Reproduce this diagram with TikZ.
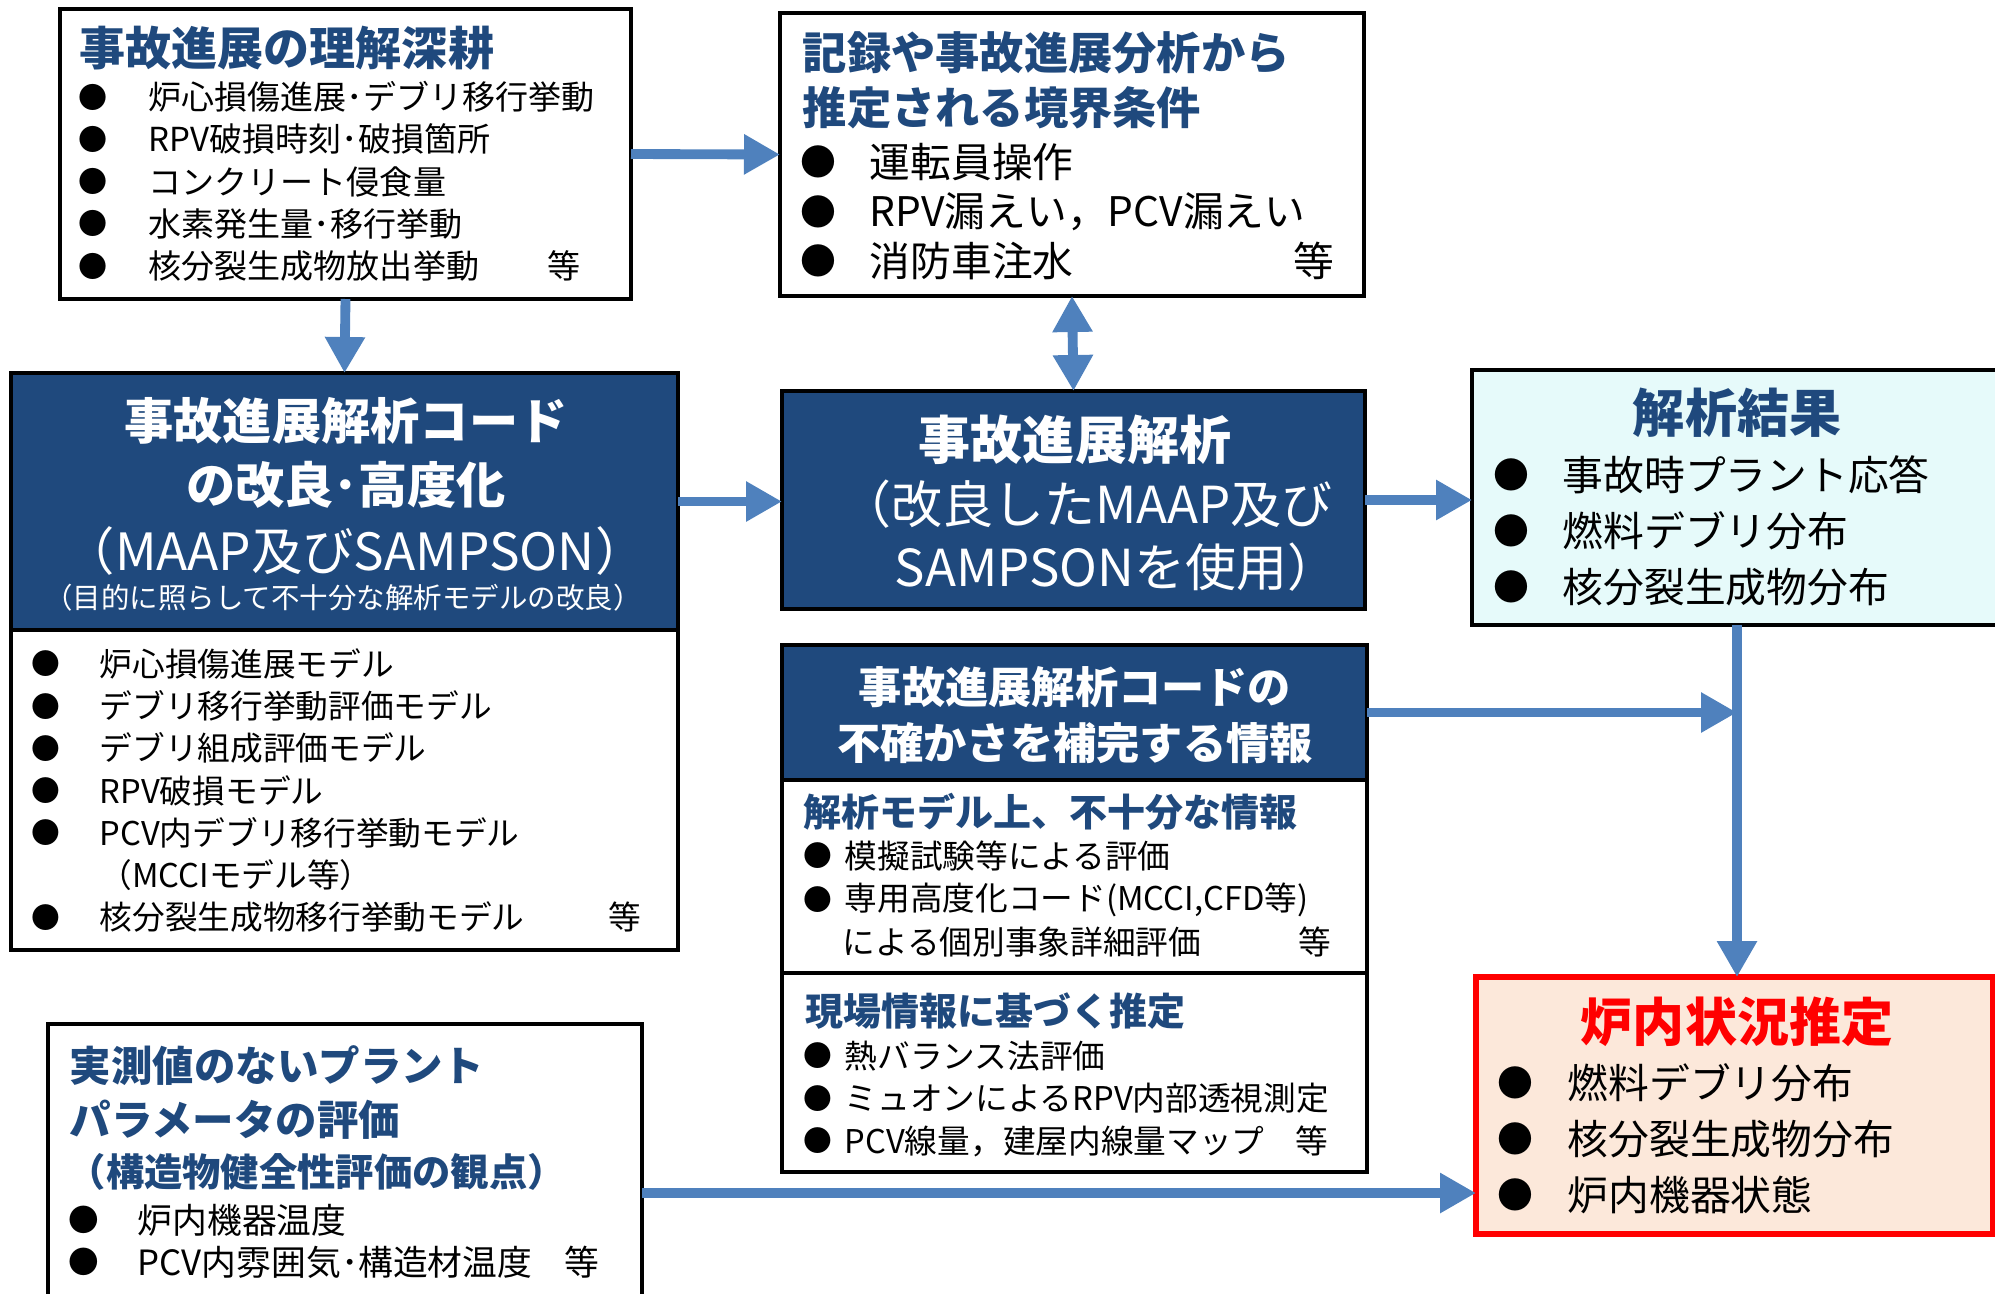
\documentclass[tikz,border=0pt]{standalone}
\usepackage{fontspec}
\setmainfont{Noto Sans CJK JP}
\usepackage{tikz}
\usetikzlibrary{arrows.meta,positioning,calc}

\definecolor{navy}{HTML}{1F497D}
\definecolor{flowblue}{HTML}{4F81BD}
\definecolor{resultbg}{HTML}{E6FAFA}
\definecolor{statebg}{HTML}{FCE8DA}
\newcommand{\fsz}[2]{\fontsize{#1}{#2}\selectfont}

\tikzset{
  box/.style={rectangle, draw=black, line width=0.9pt, fill=white, inner sep=0pt, outer sep=0pt, anchor=north west},
  headbox/.style={box, fill=navy},
  flow/.style={draw=flowblue, line width=2.8pt, -{Triangle[length=3.6mm,width=3.8mm]}},
  ttl/.style={inner sep=0pt, text=navy},
  itm/.style={inner sep=0pt, anchor=west},
  bul/.style={inner sep=0pt, scale=0.88},
}

\begin{document}
\begin{tikzpicture}
\useasboundingbox (0,0) rectangle (19.95,-12.93);

% frames
\node[box, minimum width=5.71cm, minimum height=2.90cm] (A) at (0.60,-0.09) {};
\node[box, minimum width=5.84cm, minimum height=2.83cm] (B) at (7.80,-0.13) {};
\node[headbox, minimum width=6.67cm, minimum height=2.57cm] (Ch) at (0.11,-3.73) {};
\node[box, minimum width=6.67cm, minimum height=3.20cm, below=0pt of Ch] (Cb) {};
\node[headbox, minimum width=5.83cm, minimum height=2.18cm] (D) at (7.82,-3.91) {};
\node[box, fill=resultbg, minimum width=5.30cm, minimum height=2.55cm] (E) at (14.72,-3.70) {};
\node[headbox, minimum width=5.85cm, minimum height=1.35cm] (Fh) at (7.82,-6.45) {};
\node[box, minimum width=5.85cm, minimum height=1.93cm, below=0pt of Fh] (Fa) {};
\node[box, minimum width=5.85cm, minimum height=1.99cm, below=0pt of Fa] (Fb) {};
\node[box, draw=red, line width=1.6pt, fill=statebg, minimum width=5.17cm, minimum height=2.57cm] (G) at (14.76,-9.77) {};
\node[box, minimum width=5.94cm, minimum height=3.38cm] (H) at (0.48,-10.24) {};

% understanding of accident progression
\node[ttl, anchor=west, font=\bfseries\fsz{13.1}{15}] (Attl) at (0.79,-0.48) {事故進展の理解深耕};
\begin{scope}[font=\fsz{9.4}{11}]
\foreach \entry [count=\i] in {炉心損傷進展･デブリ移行挙動, RPV破損時刻･破損箇所, コンクリート侵食量, 水素発生量･移行挙動, 核分裂生成物放出挙動} {
  \node[bul] (Adot\i) at (0.93,{-0.97-0.4225*(\i-1)}) {●};
  \node[itm] (Aitem\i) at (1.48,{-0.97-0.4225*(\i-1)}) {\entry};
}
\node[itm] (Aetc) at (5.47,-2.66) {等};
\end{scope}

% boundary conditions
\node[ttl, anchor=west, align=left, font=\bfseries\fsz{12.6}{15.6}] (Bttl) at (8.02,-0.805) {記録や事故進展分析から\\推定される境界条件};
\begin{scope}[font=\fsz{11.6}{14}]
\foreach \entry [count=\i] in {運転員操作, RPV漏えい，PCV漏えい, 消防車注水} {
  \node[bul] (Bdot\i) at (8.18,{-1.62-0.495*(\i-1)}) {●};
  \node[itm] (Bitem\i) at (8.69,{-1.62-0.495*(\i-1)}) {\entry};
}
\node[itm] (Betc) at (12.93,-2.61) {等};
\end{scope}

% code improvement
\node[align=center, text=white, font=\bfseries\fsz{14}{18.2}] (Cttl) at (3.46,-4.53) {事故進展解析コード\\の改良･高度化};
\node[text=white, inner sep=0pt, font=\fsz{14.6}{16}] (Csub) at (3.55,-5.51) {（MAAP及びSAMPSON）};
\node[text=white, inner sep=0pt, font=\fsz{8.1}{10}] (Cnote) at (3.43,-5.98) {（目的に照らして不十分な解析モデルの改良）};
\begin{scope}[font=\fsz{9.3}{11}]
\foreach \entry [count=\i] in {炉心損傷進展モデル, デブリ移行挙動評価モデル, デブリ組成評価モデル, RPV破損モデル, PCV内デブリ移行挙動モデル, （MCCIモデル等）, 核分裂生成物移行挙動モデル}
  \node[itm] (Citem\i) at (0.99,{-6.64-0.422*(\i-1)}) {\entry};
\foreach \i in {1,2,3,4,5,7}
  \node[bul] (Cdot\i) at (0.46,{-6.64-0.422*(\i-1)}) {●};
\node[itm] (Cetc) at (6.08,-9.17) {等};
\end{scope}

% analysis
\node[text=white, inner sep=0pt, font=\bfseries\fsz{14.8}{16}] (Dttl) at (10.75,-4.40) {事故進展解析};
\node[itm, text=white, font=\fsz{14.5}{16}] (Dsub1) at (8.40,-5.04) {（改良したMAAP及び};
\node[itm, text=white, font=\fsz{14.5}{16}] (Dsub2) at (8.94,-5.67) {SAMPSONを使用）};

% results
\node[ttl, font=\bfseries\fsz{14.8}{16}] (Ettl) at (17.37,-4.13) {解析結果};
\begin{scope}[font=\fsz{11.6}{14}]
\foreach \entry [count=\i] in {事故時プラント応答, 燃料デブリ分布, 核分裂生成物分布} {
  \node[bul] (Edot\i) at (15.11,{-4.75-0.56*(\i-1)}) {●};
  \node[itm] (Eitem\i) at (15.62,{-4.75-0.56*(\i-1)}) {\entry};
}
\end{scope}

% complementary information
\node[align=center, text=white, font=\bfseries\fsz{12.3}{15.9}] (Fttl) at (10.75,-7.15) {事故進展解析コードの\\不確かさを補完する情報};
\node[ttl, anchor=west, font=\bfseries\fsz{10.8}{12}] (Fattl) at (8.03,-8.12) {解析モデル上、不十分な情報};
\node[ttl, anchor=west, font=\bfseries\fsz{10.8}{12}] (Fbttl) at (8.05,-10.11) {現場情報に基づく推定};
\begin{scope}[font=\fsz{9.3}{11}]
\foreach \entry [count=\i] in {模擬試験等による評価, {専用高度化コード(MCCI,CFD等)}} {
  \node[bul] (Fadot\i) at (8.18,{-8.56-0.44*(\i-1)}) {●};
  \node[itm] (Faitem\i) at (8.44,{-8.56-0.44*(\i-1)}) {\entry};
}
\node[itm] (Faitem3) at (8.42,-9.42) {による個別事象詳細評価};
\node[itm] (Faetc) at (12.98,-9.42) {等};
\foreach \entry [count=\i] in {熱バランス法評価, ミュオンによるRPV内部透視測定, PCV線量，建屋内線量マップ} {
  \node[bul] (Fbdot\i) at (8.18,{-10.56-0.425*(\i-1)}) {●};
  \node[itm] (Fbitem\i) at (8.44,{-10.56-0.425*(\i-1)}) {\entry};
}
\node[itm] (Fbetc) at (12.95,-11.41) {等};
\end{scope}

% core state estimation
\node[text=red, inner sep=0pt, font=\bfseries\fsz{14.8}{16}] (Gttl) at (17.37,-10.22) {炉内状況推定};
\begin{scope}[font=\fsz{11.6}{14}]
\foreach \entry [count=\i] in {燃料デブリ分布, 核分裂生成物分布, 炉内機器状態} {
  \node[bul] (Gdot\i) at (15.15,{-10.83-0.56*(\i-1)}) {●};
  \node[itm] (Gitem\i) at (15.67,{-10.83-0.56*(\i-1)}) {\entry};
}
\end{scope}

% unmeasured parameters
\node[ttl, anchor=west, align=left, font=\bfseries\fsz{11.8}{15.6}] (Httl) at (0.69,-10.925) {実測値のないプラント\\パラメータの評価};
\node[ttl, anchor=west, font=\bfseries\fsz{10.9}{12}] (Hnote) at (0.67,-11.72) {（構造物健全性評価の観点）};
\begin{scope}[font=\fsz{9.9}{12}]
\foreach \entry [count=\i] in {炉内機器温度, PCV内雰囲気･構造材温度} {
  \node[bul] (Hdot\i) at (0.84,{-12.20-0.42*(\i-1)}) {●};
  \node[itm] (Hitem\i) at (1.37,{-12.20-0.42*(\i-1)}) {\entry};
}
\node[itm] (Hetc) at (5.64,-12.62) {等};
\end{scope}

% arrows
\draw[flow] (A.east) -- (B.west);
\draw[flow] (A.south) -- (Ch.north);
\draw[flow, {Triangle[length=3.6mm,width=3.8mm]}-{Triangle[length=3.6mm,width=3.8mm]}] (B.south) -- (D.north);
\draw[flow] (Ch.east) -- (Ch.east -| D.west);
\draw[flow] (D.east) -- (D.east -| E.west);
\draw[flow] (E.south) -- (E.south |- G.north);
\draw[flow] (Fh.east) -- (Fh.east -| E.south);
\draw[flow] (H.east) -- (H.east -| G.west);
\end{tikzpicture}
\end{document}
